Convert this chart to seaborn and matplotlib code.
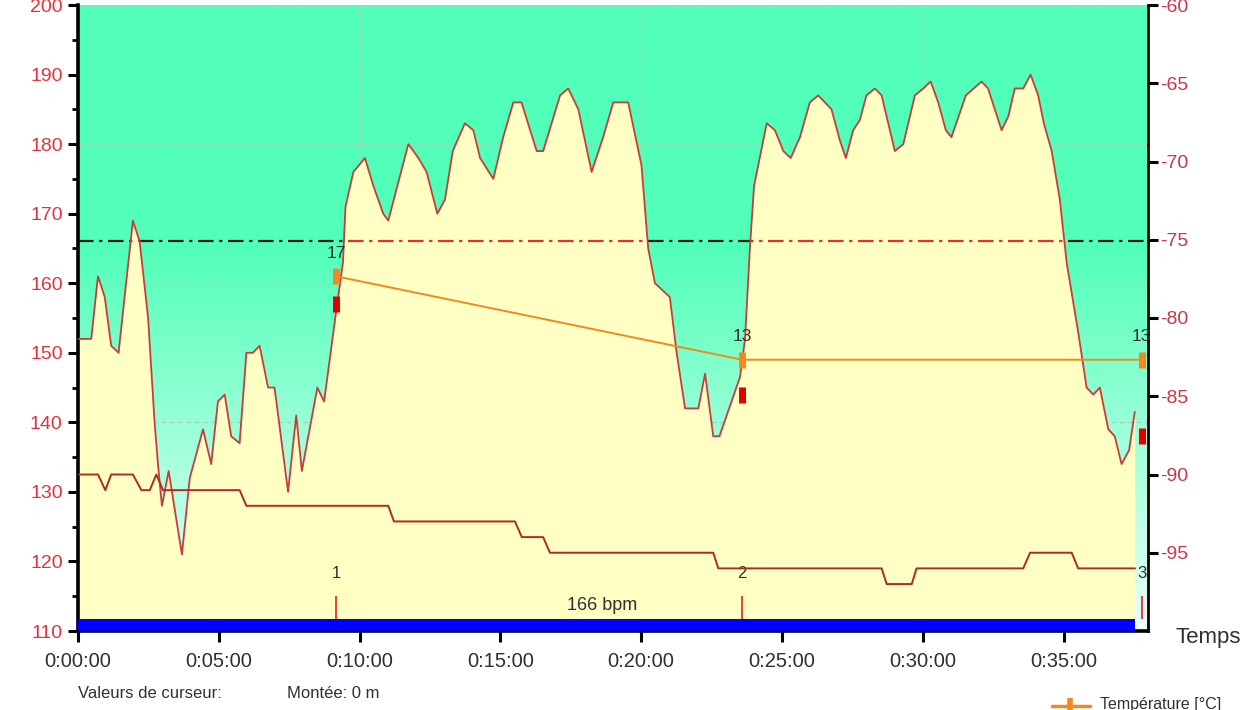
import numpy as np
import matplotlib
matplotlib.use("Agg")
import matplotlib.pyplot as plt
from matplotlib.ticker import FuncFormatter, MultipleLocator
from matplotlib.lines import Line2D
import seaborn as sns

sns.set_style("white")
plt.rcParams["font.family"] = ["Liberation Sans", "DejaVu Sans"]
plt.rcParams["axes.unicode_minus"] = False

# fréquence cardiaque (minutes, bpm)
hr_time = [0.0, 0.47, 0.71, 0.95, 1.18, 1.44, 1.95, 2.19, 2.49, 2.72, 2.84, 2.98, 3.22, 3.69,
           3.97, 4.44, 4.73, 4.97, 5.21, 5.44, 5.74, 5.98, 6.21, 6.45, 6.75, 6.98, 7.46, 7.75,
           7.95, 8.50, 8.74, 9.17, 9.41, 9.50, 9.78, 10.19, 10.49, 10.84, 11.02, 11.73, 12.09,
           12.38, 12.76, 13.03, 13.31, 13.74, 14.04, 14.28, 14.75, 15.10, 15.46, 15.75, 16.29,
           16.52, 17.12, 17.41, 17.77, 18.24, 18.65, 19.01, 19.54, 20.01, 20.25, 20.49, 21.02,
           21.26, 21.56, 22.03, 22.27, 22.56, 22.78, 23.51, 23.69, 23.86, 24.01, 24.46, 24.75,
           25.05, 25.31, 25.64, 25.99, 26.29, 26.76, 27.06, 27.27, 27.53, 27.77, 28.0, 28.30,
           28.54, 29.01, 29.31, 29.72, 30.02, 30.28, 30.55, 30.82, 31.02, 31.53, 32.09, 32.32,
           32.80, 33.04, 33.27, 33.57, 33.83, 34.10, 34.30, 34.58, 34.87, 35.11, 35.52, 35.82,
           36.06, 36.29, 36.59, 36.82, 37.06, 37.33, 37.53]
hr_bpm = [152, 152, 161, 158, 151, 150, 169, 166, 155, 140, 134, 128, 133, 121,
          132, 139, 134, 143, 144, 138, 137, 150, 150, 151, 145, 145, 130, 141,
          133, 145, 143, 156, 163, 171, 176, 178, 174, 170, 169, 180, 178,
          176, 170, 172, 179, 183, 182, 178, 175, 181, 186, 186, 179,
          179, 187, 188, 185, 176, 181, 186, 186, 177, 165, 160, 158,
          150, 142, 142, 147, 138, 138, 146.5, 152, 165, 174, 183, 182,
          179, 178, 181, 186, 187, 185, 180.5, 178, 182, 183.5, 187, 188,
          187, 179, 180, 187, 188, 189, 186, 182, 181, 187, 189, 188,
          182, 184, 188, 188, 190, 187, 183, 179, 172, 163, 153, 145,
          144, 145, 139, 138, 134, 136, 141.5]

# altitude (axe de droite)
alt_time = [0, 0.71, 0.97, 1.18, 1.95, 2.25, 2.55, 2.78, 3.02, 5.74, 5.98, 11.02, 11.22, 15.52,
            15.76, 16.52, 16.76, 22.56, 22.74, 28.54, 28.72, 29.61, 29.78, 33.57, 33.81, 35.29,
            35.52, 37.54]
alt_m = [-90, -90, -91, -90, -90, -91, -91, -90, -91, -91, -92, -92, -93, -93,
         -94, -94, -95, -95, -96, -96, -97, -97, -96, -96, -95, -95, -96, -96]

# tours / curseurs
lap_time = [9.16, 23.58, 37.78]
lap_label = ["1", "2", "3"]
temp_c = [17, 13, 13]
cursor_bpm = [157, 144, 138]
threshold_bpm = 166
t_end = 38.0

fig = plt.figure(figsize=(12.6, 7.1), dpi=100)
ax = fig.add_axes([78 / 1260, 1 - 631 / 710, (1148 - 78) / 1260, 626 / 710])
ax.set_xlim(0, t_end)
ax.set_ylim(110, 200)

# fond dégradé
yy = np.linspace(110, 200, 300)
frac = np.clip((165 - yy) / 55, 0, 1)[:, None]
top_c = np.array([82, 255, 185]) / 255
bot_c = np.array([235, 255, 250]) / 255
grad = top_c + frac * (bot_c - top_c)
ax.imshow(grad[:, None, :], extent=(0, t_end, 110, 200), origin="lower", aspect="auto", zorder=0)

for v in [140, 160, 180, 200]:
    ax.axhline(v, color="#b0c8c0", lw=1, ls=(0, (3, 3)), zorder=1)
for v in [10, 20, 30]:
    ax.axvline(v, color="#b0c8c0", lw=1, ls=(0, (3, 3)), zorder=1)

dashdot = (0, (7, 2.5, 1.5, 2.5))
ax.axhline(threshold_bpm, color="#202020", lw=1.6, ls=dashdot, zorder=1.5)

poly = ax.fill_between(hr_time, hr_bpm, 110, color="#ffffc3", lw=0, zorder=2)
red_thr = ax.axhline(threshold_bpm, color="#e03030", lw=1.6, ls=dashdot, zorder=2.5)
red_thr.set_clip_path(poly.get_paths()[0], transform=ax.transData)

sns.lineplot(x=hr_time, y=hr_bpm, ax=ax, color="#c83c3c", lw=1.3, zorder=3)

# bande bleue + marques de tours
ax.fill_between([0, hr_time[-1]], 110, 111.7, color="#0000ff", lw=0, zorder=3)
ax.vlines(lap_time, 111.7, 115.1, color="#e02020", lw=1.2, zorder=3)
for t, lab in zip(lap_time, lap_label):
    ax.text(t, 118.2, lab, ha="center", va="center", fontsize=12, color="#303030", zorder=4, clip_on=False)
ax.text(18.6, 113.6, f"{threshold_bpm} bpm", ha="center", va="center", fontsize=13, color="#303030", zorder=4)
ax.plot(lap_time, cursor_bpm, ls="none", marker="|", ms=11, mew=5, color="#e00000", zorder=4, clip_on=False)

ax.xaxis.set_major_locator(MultipleLocator(5))
ax.xaxis.set_major_formatter(FuncFormatter(lambda v, p: f"0:{int(v):02d}:00"))
ax.yaxis.set_major_locator(MultipleLocator(10))
ax.yaxis.set_minor_locator(MultipleLocator(5))
ax.tick_params(axis="x", direction="out", length=8, width=2.2, color="black", labelsize=14.5,
               labelcolor="#303030", pad=7, bottom=True)
ax.tick_params(axis="y", which="major", direction="out", length=7, width=2.2, color="black",
               labelsize=14, labelcolor="#e8303c", pad=4, left=True)
ax.tick_params(axis="y", which="minor", direction="out", length=4, width=2, color="black", left=True)
for side in ["left", "bottom"]:
    ax.spines[side].set_color("black")
    ax.spines[side].set_linewidth(2.6)
ax.spines["top"].set_visible(False)
ax.spines["right"].set_visible(False)
ax.set_xlabel("")
ax.set_ylabel("")

# axe de droite (altitude)
ax2 = ax.twinx()
ax2.set_ylim(-100, -60)
sns.lineplot(x=alt_time, y=alt_m, ax=ax2, color="#b02a20", lw=1.4)
ax2.set_yticks([-95, -90, -85, -80, -75, -70, -65, -60])
ax2.tick_params(axis="y", direction="out", length=7, width=2.2, color="black", labelsize=14,
                labelcolor="#c83848", pad=2, right=True)
ax2.spines["right"].set_linewidth(2)
ax2.spines["right"].set_color("black")
for side in ["left", "top", "bottom"]:
    ax2.spines[side].set_visible(False)
ax2.set_ylabel("")

# température
ax3 = ax.twinx()
ax3.set_ylim(0, 30)
ax3.axis("off")
sns.lineplot(x=lap_time, y=temp_c, ax=ax3, color="#f08a20", lw=1.4)
ax3.plot(lap_time, temp_c, ls="none", marker="|", ms=11, mew=5, color="#f08a20", clip_on=False)
for t, v in zip(lap_time, temp_c):
    ax3.annotate(str(v), (t, v), xytext=(0, 16.5), textcoords="offset points", ha="center",
                 va="center", fontsize=12.5, color="#303030", annotation_clip=False)

fig.text(1175 / 1260, 1 - 638 / 710, "Temps", fontsize=16, color="#303030", va="center")
fig.text(78 / 1260, 1 - 694 / 710, "Valeurs de curseur:", fontsize=12, color="#303030", va="center")
fig.text(287 / 1260, 1 - 694 / 710, "Montée: 0 m", fontsize=12, color="#303030", va="center")
fig.add_artist(Line2D([1052 / 1260, 1070 / 1260, 1090 / 1260], [0.006, 0.006, 0.006],
                      color="#f08a20", lw=2.5, marker="|", ms=12, mew=4, markevery=[1]))
fig.text(1100 / 1260, 0.008, "Température [°C]", fontsize=11.5, color="#303030", va="center")

fig.savefig("out.png", dpi=100)
